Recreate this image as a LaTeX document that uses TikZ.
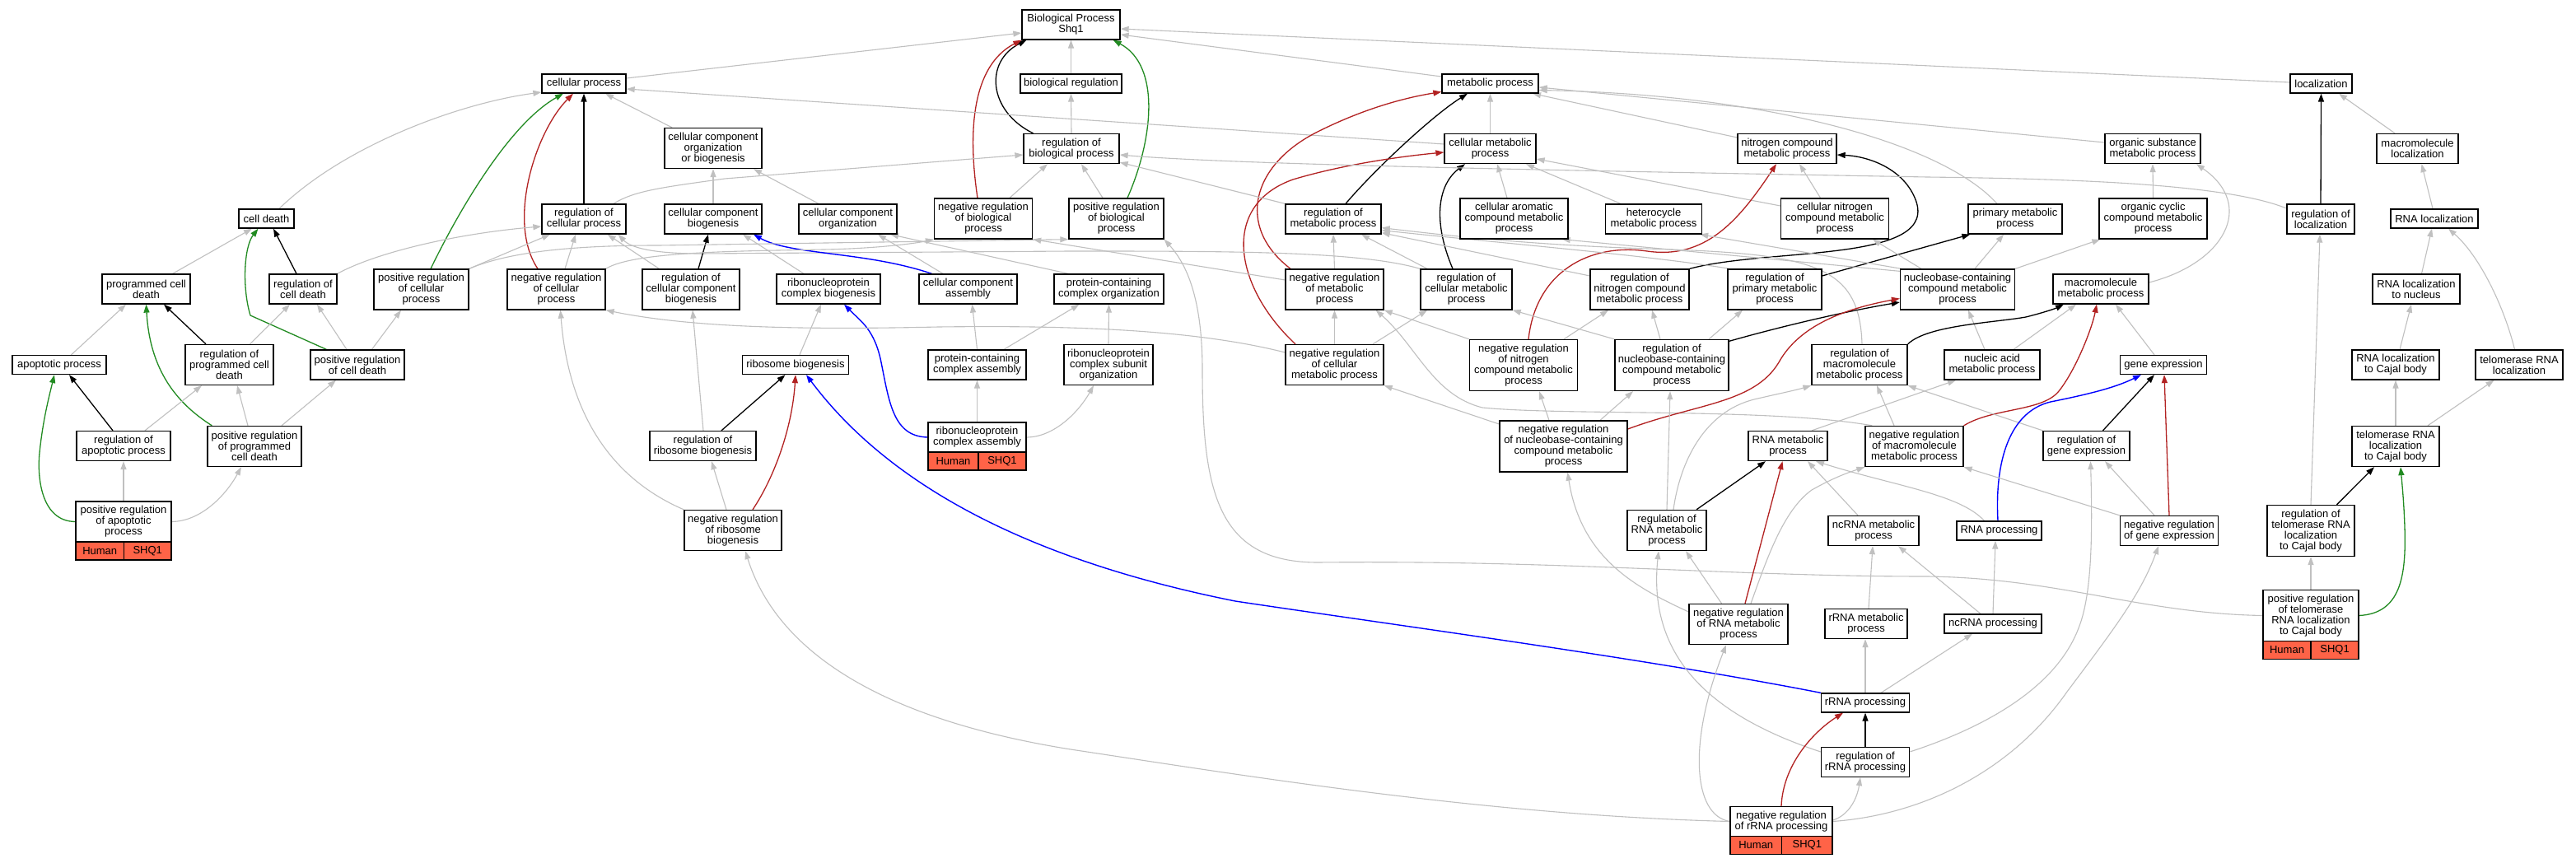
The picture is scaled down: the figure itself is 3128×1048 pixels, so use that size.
\documentclass[tikz,border=0pt]{standalone}
\usepackage{fontspec}
\setmainfont{Liberation Sans}
\usetikzlibrary{arrows.meta}
\definecolor{edgegray}{HTML}{C0C0C0}
\definecolor{negred}{HTML}{B22222}
\definecolor{posgreen}{HTML}{228B22}
\definecolor{partblue}{HTML}{0000FF}
\definecolor{tomatofill}{HTML}{FF6347}
\newcommand{\gofont}{\fontsize{13pt}{13pt}\selectfont}
\pgfdeclarelayer{bglayer}
\pgfdeclarelayer{edgelayer}
\pgfsetlayers{bglayer,edgelayer,main}
\tikzset{
  gobox/.style={draw=black, line width=1.3pt, fill=white, align=center, inner sep=0pt, font=\gofont},
  annot/.style={draw=black, line width=1.3pt, fill=tomatofill, inner sep=0pt, font=\gofont},
  wh/.style 2 args={minimum width=#1pt, minimum height=#2pt},
  isarel/.style={draw=edgegray, line width=1.1pt, -{Triangle[length=10pt,width=7pt]}},
  regrel/.style={draw=black, line width=1.3pt, -{Triangle[length=10pt,width=7pt]}},
  negrel/.style={draw=negred, line width=1.3pt, -{Triangle[length=10pt,width=7pt]}},
  posrel/.style={draw=posgreen, line width=1.3pt, -{Triangle[length=10pt,width=7pt]}},
  partrel/.style={draw=partblue, line width=1.4pt, -{Triangle[length=10pt,width=7pt]}}
}
\begin{document}
\begin{tikzpicture}[x=1pt,y=-1pt]
\begin{pgfonlayer}{bglayer}
\fill[white] (0,0) rectangle (3128,1048);
\end{pgfonlayer}
\useasboundingbox (0,0) rectangle (3128,1048);

% ---------------- nodes ----------------
\node[gobox,wh={119}{36}] (root) at (1300.5,30) {Biological Process\\Shq1};
\node[gobox,wh={102}{23}] (cp) at (709,101.5) {cellular process};
\node[gobox,wh={123}{23}] (br) at (1300.5,101.5) {biological regulation};
\node[gobox,wh={117}{23}] (mp) at (1809.5,101.5) {metabolic process};
\node[gobox,wh={75}{23}] (loc) at (2818.5,101.5) {localization};

\node[gobox,wh={118}{49}] (ccob) at (866,180) {cellular component\\organization\\or biogenesis};
\node[gobox,wh={116}{36}] (rbp) at (1301,180.5) {regulation of\\biological process};
\node[gobox,wh={111}{36}] (cmp) at (1809.5,180.5) {cellular metabolic\\process};
\node[gobox,wh={120}{36}] (ncmp) at (2170,180.5) {nitrogen compound\\metabolic process};
\node[gobox,wh={116}{36}] (osmp) at (2614,180.5) {organic substance\\metabolic process};
\node[gobox,wh={99}{36}] (mloc) at (2935.5,180.5) {macromolecule\\localization};

\node[gobox,wh={67}{23}] (cd) at (323.5,265.5) {cell death};
\node[gobox,wh={102}{36}] (rcp) at (709,266) {regulation of\\cellular process};
\node[gobox,wh={118}{36}] (ccb) at (866,266) {cellular component\\biogenesis};
\node[gobox,wh={119}{36}] (cco) at (1029.5,266) {cellular component\\organization};
\node[gobox,wh={119}{49}] (nrbp) at (1194,265.5) {negative regulation\\of biological\\process};
\node[gobox,wh={115}{49}] (prbp) at (1355.5,265.5) {positive regulation\\of biological\\process};
\node[gobox,wh={116}{36}] (rmp) at (1619,266) {regulation of\\metabolic process};
\node[gobox,wh={131}{49}] (camp) at (1838.5,265.5) {cellular aromatic\\compound metabolic\\process};
\node[gobox,wh={117}{36}] (hmp) at (2008,266) {heterocycle\\metabolic process};
\node[gobox,wh={131}{49}] (cnmp) at (2228,265.5) {cellular nitrogen\\compound metabolic\\process};
\node[gobox,wh={114}{36}] (pmp) at (2447,266) {primary metabolic\\process};
\node[gobox,wh={131}{49}] (ocmp) at (2614.5,265.5) {organic cyclic\\compound metabolic\\process};
\node[gobox,wh={82}{36}] (rloc) at (2818,266) {regulation of\\localization};
\node[gobox,wh={106}{23}] (rnaloc) at (2956,265.5) {RNA localization};

\node[gobox,wh={107}{36}] (pcd) at (177.5,351) {programmed cell\\death};
\node[gobox,wh={82}{36}] (rcd) at (368,351) {regulation of\\cell death};
\node[gobox,wh={115}{49}] (prcp) at (511.5,351.5) {positive regulation\\of cellular\\process};
\node[gobox,wh={119}{49}] (nrcp) at (675.5,351.5) {negative regulation\\of cellular\\process};
\node[gobox,wh={118}{49}] (rccb) at (839,351.5) {regulation of\\cellular component\\biogenesis};
\node[gobox,wh={126}{36}] (rcb) at (1006,351) {ribonucleoprotein\\complex biogenesis};
\node[gobox,wh={119}{36}] (cca) at (1175.5,351) {cellular component\\assembly};
\node[gobox,wh={133}{36}] (pco) at (1346.5,351) {protein-containing\\complex organization};
\node[gobox,wh={119}{49}] (nrmp) at (1620.5,351.5) {negative regulation\\of metabolic\\process};
\node[gobox,wh={111}{49}] (rcmp) at (1780.5,351.5) {regulation of\\cellular metabolic\\process};
\node[gobox,wh={120}{49}] (rnmp) at (1991,351.5) {regulation of\\nitrogen compound\\metabolic process};
\node[gobox,wh={114}{49}] (rpmp) at (2155,351.5) {regulation of\\primary metabolic\\process};
\node[gobox,wh={139}{49}] (nbmp) at (2377,351.5) {nucleobase-containing\\compound metabolic\\process};
\node[gobox,wh={116}{36}] (mmp) at (2551,351) {macromolecule\\metabolic process};
\node[gobox,wh={106}{36}] (rlocn) at (2934,351) {RNA localization\\to nucleus};

\node[gobox,wh={114}{23}] (ap) at (72,443) {apoptotic process};
\node[gobox,wh={107}{49}] (rpcd) at (278.5,443) {regulation of\\programmed cell\\death};
\node[gobox,wh={114}{36}] (prcd) at (434,443) {positive regulation\\of cell death};
\node[gobox,wh={129}{23}] (rb) at (966,443) {ribosome biogenesis};
\node[gobox,wh={119}{36}] (pca) at (1186.5,443) {protein-containing\\complex assembly};
\node[gobox,wh={108}{49}] (rcso) at (1346,443) {ribonucleoprotein\\complex subunit\\organization};
\node[gobox,wh={119}{49}] (nrcmp) at (1620.5,443) {negative regulation\\of cellular\\metabolic process};
\node[gobox,wh={131}{62}] (nrnmp) at (1850,443.5) {negative regulation\\of nitrogen\\compound metabolic\\process};
\node[gobox,wh={138}{62}] (rnbmp) at (2030,443.5) {regulation of\\nucleobase-containing\\compound metabolic\\process};
\node[gobox,wh={116}{49}] (rmmp) at (2258,443) {regulation of\\macromolecule\\metabolic process};
\node[gobox,wh={116}{36}] (namp) at (2419,443) {nucleic acid\\metabolic process};
\node[gobox,wh={105}{23}] (ge) at (2627,443) {gene expression};
\node[gobox,wh={106}{36}] (rlcb) at (2909,443) {RNA localization\\to Cajal body};
\node[gobox,wh={106}{36}] (trl) at (3059,443) {telomerase RNA\\localization};

\node[gobox,wh={114}{36}] (rap) at (150,541.5) {regulation of\\apoptotic process};
\node[gobox,wh={114}{49}] (prpcd) at (309,542) {positive regulation\\of programmed\\cell death};
\node[gobox,wh={129}{36}] (rrb) at (853.5,541.5) {regulation of\\ribosome biogenesis};
\node[gobox,wh={119}{36}] (rca) at (1186.5,531) {ribonucleoprotein\\complex assembly};
\node[annot,wh={61}{22}] (rcaH) at (1157.5,560) {Human};
\node[annot,wh={58}{22}] (rcaS) at (1217,560) {SHQ1};
\node[gobox,wh={155}{62}] (nrnb) at (1898.5,542) {negative regulation\\of nucleobase-containing\\compound metabolic\\process};
\node[gobox,wh={96}{36}] (rnamp) at (2171,541.5) {RNA metabolic\\process};
\node[gobox,wh={119}{49}] (nrmmp) at (2324.5,542) {negative regulation\\of macromolecule\\metabolic process};
\node[gobox,wh={105}{36}] (rge) at (2533.5,541.5) {regulation of\\gene expression};
\node[gobox,wh={106}{49}] (trlcb) at (2909,542) {telomerase RNA\\localization\\to Cajal body};

\node[gobox,wh={116}{49}] (prap) at (150,633.5) {positive regulation\\of apoptotic\\process};
\node[annot,wh={58.5}{22}] (prapH) at (121.25,669) {Human};
\node[annot,wh={57.5}{22}] (prapS) at (179.25,669) {SHQ1};
\node[gobox,wh={118}{49}] (nrrb) at (890,644) {negative regulation\\of ribosome\\biogenesis};
\node[gobox,wh={96}{49}] (rrnamp) at (2024,644) {regulation of\\RNA metabolic\\process};
\node[gobox,wh={110}{36}] (ncrm) at (2275,644.5) {ncRNA metabolic\\process};
\node[gobox,wh={103}{23}] (rnap) at (2427.5,644.5) {RNA processing};
\node[gobox,wh={119}{36}] (nrge) at (2634,644.5) {negative regulation\\of gene expression};
\node[gobox,wh={106}{62}] (rtrl) at (2806,644.5) {regulation of\\telomerase RNA\\localization\\to Cajal body};

\node[gobox,wh={120}{49}] (nrrna) at (2111,758) {negative regulation\\of RNA metabolic\\process};
\node[gobox,wh={100}{36}] (rrm) at (2266,757.5) {rRNA metabolic\\process};
\node[gobox,wh={118}{23}] (ncp) at (2420,757.5) {ncRNA processing};
\node[gobox,wh={116}{62}] (prtrl) at (2806,747.5) {positive regulation\\of telomerase\\RNA localization\\to Cajal body};
\node[annot,wh={58}{21.5}] (prtrlH) at (2777,789.5) {Human};
\node[annot,wh={58}{21.5}] (prtrlS) at (2835,789.5) {SHQ1};

\node[gobox,wh={107}{23}] (rrp) at (2265,853.5) {rRNA processing};
\node[gobox,wh={107}{36}] (rrrp) at (2265,925.5) {regulation of\\rRNA processing};
\node[gobox,wh={124}{36}] (nrrp) at (2163,997.5) {negative regulation\\of rRNA processing};
\node[annot,wh={62.5}{21.5}] (nrrpH) at (2132.25,1026.5) {Human};
\node[annot,wh={61.5}{21.5}] (nrrpS) at (2194.25,1026.5) {SHQ1};

% ---------------- edges ----------------
\begin{pgfonlayer}{edgelayer}
% to root
\draw[isarel] ([yshift=6.5]cp.east) -- ([yshift=-10]root.west);
\draw[isarel] (br.north) -- (root.south);
\draw[regrel] ([xshift=-46.5]rbp.north) .. controls (1200,135) and (1195,75) .. ([xshift=6]root.south west);
\draw[negrel] ([xshift=-7]nrbp.north) .. controls (1175,160) and (1180,80) .. (root.south west);
\draw[posrel] ([xshift=13.5]prbp.north) .. controls (1400,170) and (1410,80) .. ([xshift=-9]root.south east);
\draw[isarel] ([yshift=8.5]mp.west) -- ([yshift=-12]root.east);
\draw[isarel] ([yshift=1.5]loc.west) -- ([yshift=-5]root.east);
% cellular process
\draw[isarel] ([xshift=15.5]cd.north) .. controls (420,175) and (560,125) .. ([yshift=-10.5]cp.west);
\draw[posrel] ([xshift=11.5]prcp.north) .. controls (560,250) and (620,150) .. ([xshift=-25]cp.south);
\draw[negrel] ([xshift=-22.5]nrcp.north) .. controls (615,270) and (650,160) .. ([xshift=-13]cp.south);
\draw[regrel] (rcp.north) -- (cp.south);
\draw[isarel] ([xshift=-50]ccob.north) -- ([xshift=26]cp.south);
\draw[isarel] ([yshift=5.5]cmp.west) -- ([yshift=-6.5]cp.east);
% metabolic process
\draw[isarel] (cmp.north) -- (mp.south);
\draw[regrel] ([xshift=15]rmp.north) .. controls (1670,205) and (1740,140) .. ([xshift=-27.5]mp.south);
\draw[negrel] ([xshift=-53.5]nrmp.north) .. controls (1500,275) and (1520,200) .. (1600,160) .. controls (1660,130) and (1710,118) .. ([yshift=-10]mp.west);
\draw[isarel] ([yshift=13.5]ncmp.west) -- ([xshift=51.5]mp.south);
\draw[isarel] ([yshift=7.5]osmp.west) -- ([yshift=-4.5]mp.east);
\draw[isarel] ([xshift=-22]pmp.north) .. controls (2360,175) and (2150,115) .. ([yshift=-8]mp.east);
% localization
\draw[regrel] (rloc.north) -- (loc.south);
\draw[isarel] ([xshift=-27.5]mloc.north) -- ([xshift=21.5]loc.south);
% cellular metabolic process
\draw[regrel] ([xshift=-16.5]rcmp.north) .. controls (1740,270) and (1745,225) .. ([xshift=-30.5]cmp.south);
\draw[isarel] ([xshift=-8.5]camp.north) -- ([xshift=8.5]cmp.south);
\draw[isarel] ([xshift=-40]hmp.north) -- ([xshift=43.5]cmp.south);
\draw[isarel] ([yshift=15.5]cnmp.west) -- ([yshift=-12.5]cmp.east);
\draw[negrel] ([xshift=-47.5]nrcmp.north) .. controls (1500,350) and (1480,250) .. (1570,218) .. controls (1630,200) and (1700,190) .. ([yshift=-4.5]cmp.west);
% nitrogen compound
\draw[isarel] ([xshift=-17.5]cnmp.north) -- ([xshift=15]ncmp.south);
\draw[regrel] (rnmp.north east) .. controls (2150,300) and (2360,320) .. (2325,240) .. controls (2310,205) and (2270,190) .. ([yshift=-7.5]ncmp.east);
\draw[negrel] ([xshift=6]nrnmp.north) .. controls (1865,330) and (1930,295) .. (2000,305) .. controls (2070,315) and (2110,270) .. ([xshift=-13]ncmp.south);
% organic substance
\draw[isarel] (ocmp.north) -- (osmp.south);
\draw[isarel] ([yshift=8]mmp.east) .. controls (2700,320) and (2740,250) .. ([xshift=53]osmp.south);
% primary and friends
\draw[regrel] ([yshift=16.5]rpmp.east) -- ([xshift=3]pmp.south west);
\draw[isarel] ([xshift=21]nbmp.north) -- ([xshift=-14]pmp.south);
\draw[isarel] (nbmp.north east) -- ([xshift=2]ocmp.south west);
\draw[isarel] ([xshift=2]nbmp.north west) -- ([xshift=-3]hmp.south east);
\draw[isarel] ([yshift=-3]nbmp.north west) -- ([xshift=-8]camp.south east);
\draw[isarel] ([xshift=-44]nbmp.north) -- ([xshift=46]cnmp.south);
% regulation of metabolic process
\draw[isarel] (nrmp.north) -- (rmp.south);
\draw[isarel] ([xshift=-47.5]rcmp.north) -- ([xshift=34]rmp.south);
\draw[isarel] ([yshift=16.5]rnmp.west) -- ([yshift=2]rmp.south east);
\draw[isarel] ([xshift=3]rpmp.north west) .. controls (2000,310) and (1850,298) .. ([yshift=5]rmp.south east);
\draw[isarel] ([xshift=3]rmmp.north) .. controls (2258,320) and (2200,308) .. (2000,302) .. controls (1850,297) and (1750,285) .. ([yshift=8]rmp.south east);
% regulation of biological process
\draw[isarel] (rmp.north west) -- ([yshift=2]rbp.south east);
\draw[isarel] ([yshift=13]rloc.west) .. controls (2700,222) and (2500,217) .. (2340,215) .. controls (1900,207) and (1500,200) .. ([yshift=-7.5]rbp.east);
\draw[isarel] ([xshift=36]rcp.north) .. controls (770,232) and (800,228) .. (880,217) -- ([yshift=-7.5]rbp.west);
\draw[isarel] ([xshift=32]nrbp.north) -- ([xshift=-29]rbp.south);
\draw[isarel] ([xshift=-16.5]prbp.north) -- ([xshift=12]rbp.south);
\draw[isarel] (rbp.north) -- (br.south);
% cellular component organization or biogenesis
\draw[isarel] (ccb.north) -- (ccob.south);
\draw[isarel] ([xshift=-35.5]cco.north) -- ([xshift=49]ccob.south);
% regulation of cellular process
\draw[isarel] (rcd.north east) .. controls (460,305) and (560,283) .. ([yshift=-9]rcp.west);
\draw[isarel] (prcp.north east) -- ([xshift=-41]rcp.south);
\draw[isarel] ([xshift=10.5]nrcp.north) -- ([xshift=-10]rcp.south);
\draw[isarel] ([xshift=21]rccb.north west) -- ([xshift=-23]rcp.south east);
\draw[isarel] (rcmp.north west) .. controls (1650,305) and (1500,305) .. (1300,305) -- (850,308) .. controls (790,308) and (765,300) .. ([xshift=-10]rcp.south east);
% cellular component biogenesis / organization
\draw[regrel] ([xshift=9]rccb.north) -- ([xshift=-6]ccb.south);
\draw[isarel] ([xshift=-30]rcb.north) -- ([xshift=36]ccb.south);
\draw[partrel] ([xshift=16]cca.north west) .. controls (1050,305) and (960,310) .. ([xshift=49]ccb.south);
\draw[isarel] ([xshift=-30.5]cca.north) -- ([xshift=36.5]cco.south);
\draw[isarel] ([xshift=18]pco.north west) -- ([xshift=51.5]cco.south);
% negative / positive regulation of biological process
\draw[isarel] (nrcp.north east) .. controls (770,305) and (900,305) .. (1000,303) .. controls (1060,302) and (1110,296) .. (nrbp.south west);
\draw[isarel] ([yshift=11.5]nrmp.west) -- (nrbp.south east);
\draw[isarel] (prcp.north east) .. controls (620,305) and (700,298) .. (800,298) -- (prbp.south west);
\draw[isarel] (prtrl.west) .. controls (2600,745) and (2500,702) .. (2340,700) .. controls (2100,700) and (1900,680) .. (1600,683) .. controls (1480,683) and (1460,600) .. (1460,450) .. controls (1460,360) and (1440,320) .. (prbp.south east);
% complex assembly
\draw[isarel] (pca.north) -- ([xshift=5]cca.south);
\draw[isarel] ([xshift=32.5]pca.north) -- ([xshift=-36]pco.south);
\draw[isarel] (rcso.north) -- (pco.south);
\draw[isarel] ([xshift=5]rb.north) -- ([xshift=-9]rcb.south);
\draw[partrel] (rca.west) .. controls (1085,530) and (1080,490) .. (1070,440) .. controls (1062,400) and (1045,390) .. ([xshift=19]rcb.south);
\draw[isarel] (rca.north) -- (pca.south);
\draw[isarel] (rca.east) .. controls (1280,531) and (1310,500) .. ([xshift=-18]rcso.south);
% ribosome biogenesis
\draw[regrel] ([xshift=22.5]rrb.north) -- ([xshift=-12.5]rb.south);
\draw[negrel] ([xshift=24]nrrb.north) .. controls (940,580) and (962,520) .. (rb.south);
\draw[partrel] (rrp.north west) .. controls (2000,800) and (1700,760) .. (1500,730) .. controls (1250,680) and (1080,590) .. ([xshift=13]rb.south);
\draw[isarel] ([xshift=-8]nrrb.north) -- ([xshift=10.5]rrb.south);
\draw[isarel] ([xshift=0.5]rrb.north) -- ([xshift=2]rccb.south);
\draw[isarel] (nrrb.north west) .. controls (740,580) and (690,500) .. ([xshift=5]nrcp.south);
\draw[isarel] ([yshift=15]nrcmp.west) .. controls (1450,400) and (1300,395) .. (1140,397) .. controls (1000,400) and (850,400) .. (nrcp.south east);
% cell death region
\draw[isarel] ([xshift=14.5]ap.north) -- ([xshift=-24.5]pcd.south);
\draw[regrel] ([xshift=-28.5]rpcd.north) -- ([xshift=21.5]pcd.south);
\draw[posrel] ([xshift=6]prpcd.north west) .. controls (215,490) and (182,450) .. (pcd.south);
\draw[isarel] ([xshift=-22]pcd.north east) -- ([xshift=-17.5]cd.south);
\draw[regrel] ([xshift=-8]rcd.north) -- ([xshift=8.5]cd.south);
\draw[posrel] ([xshift=20]prcd.north west) -- (304,383) .. controls (294,350) and (296,300) .. ([xshift=-10]cd.south);
\draw[isarel] ([xshift=25]rpcd.north) -- ([xshift=-16]rcd.south);
\draw[isarel] ([xshift=-13]prcd.north) -- ([xshift=17]rcd.south);
\draw[isarel] ([xshift=17.5]prcd.north) -- ([xshift=-24.5]prcp.south);
\draw[regrel] ([xshift=-13]rap.north) -- ([xshift=12]ap.south);
\draw[posrel] (prap.west) .. controls (50,633) and (45,580) .. (48,550) .. controls (52,510) and (60,480) .. ([xshift=-6]ap.south);
\draw[isarel] ([xshift=26]rap.north) -- ([xshift=-33.5]rpcd.south);
\draw[isarel] ([xshift=-8]prpcd.north) -- ([xshift=9.5]rpcd.south);
\draw[isarel] ([xshift=33]prpcd.north) -- ([xshift=-26]prcd.south);
\draw[isarel] (prap.north) -- (rap.south);
\draw[isarel] (prap.east) .. controls (245,633) and (275,600) .. ([xshift=-16]prpcd.south);
% metabolic regulation middle
\draw[isarel] ([xshift=46.5]nrcmp.north) -- ([xshift=-47.5]rcmp.south);
\draw[isarel] (rnbmp.north west) -- (rcmp.south east);
\draw[isarel] (nrcmp.north) -- (nrmp.south);
\draw[isarel] ([xshift=9]nrmmp.north west) .. controls (2150,495) and (1900,505) .. (1800,495) .. controls (1740,480) and (1720,420) .. ([xshift=-10]nrmp.south east);
\draw[isarel] (nrnmp.north west) -- (nrmp.south east);
\draw[isarel] ([xshift=49]nrnmp.north) -- ([xshift=-38]rnmp.south);
\draw[isarel] ([xshift=-14]rnbmp.north) -- ([xshift=15]rnmp.south);
\draw[isarel] ([xshift=45]rnbmp.north) -- ([xshift=-39]rpmp.south);
\draw[regrel] ([yshift=-2.5]rnbmp.north east) .. controls (2150,400) and (2230,380) .. ([yshift=-15.5]nbmp.west);
\draw[negrel] ([yshift=21]nrnb.east) .. controls (2060,490) and (2130,490) .. (2160,440) .. controls (2185,395) and (2240,375) .. ([yshift=-11]nbmp.west);
\draw[isarel] ([xshift=-9]namp.north) -- ([xshift=13]nbmp.south);
\draw[regrel] (rmmp.north east) .. controls (2340,395) and (2420,392) .. (2460,385) .. controls (2480,380) and (2495,375) .. ([xshift=-45]mmp.south);
\draw[negrel] (nrmmp.north east) .. controls (2420,495) and (2480,500) .. (2500,475) .. controls (2520,450) and (2540,400) .. ([xshift=-5]mmp.south);
\draw[isarel] ([xshift=26]namp.north) -- ([xshift=-30]mmp.south);
\draw[isarel] ([xshift=-11]ge.north) -- ([xshift=18]mmp.south);
\draw[isarel] ([xshift=-24.5]nrmmp.north) -- ([xshift=21]rmmp.south);
\draw[isarel] (rge.north west) -- (rmmp.south east);
\draw[isarel] ([xshift=8]rrnamp.north) .. controls (2040,560) and (2070,500) .. (2130,485) .. controls (2160,478) and (2180,474) .. (rmmp.south west);
\draw[isarel] ([xshift=29]rnamp.north) -- ([xshift=-44]namp.south);
% gene expression
\draw[regrel] ([xshift=20]rge.north) -- ([xshift=-11]ge.south);
\draw[negrel] (nrge.north) -- ([xshift=1]ge.south);
\draw[partrel] ([xshift=-1.5]rnap.north) .. controls (2422,560) and (2440,500) .. (2490,488) .. controls (2540,478) and (2570,470) .. ([xshift=-27]ge.south);
\draw[isarel] ([xshift=-18]nrge.north) -- ([xshift=22.5]rge.south);
\draw[isarel] ([yshift=12.5]rrrp.east) .. controls (2420,880) and (2500,830) .. (2525,760) .. controls (2540,720) and (2541,650) .. ([xshift=5]rge.south);
% RNA metabolic
\draw[isarel] ([yshift=12.5]rrrp.west) .. controls (2080,870) and (2000,800) .. ([xshift=-10]rrnamp.south);
\draw[isarel] ([xshift=-20.5]nrrna.north) -- ([xshift=23]rrnamp.south);
\draw[regrel] ([xshift=36]rrnamp.north) -- ([xshift=-27]rnamp.south);
\draw[negrel] ([xshift=8]nrrna.north) -- ([xshift=-6.5]rnamp.south);
\draw[isarel] ([xshift=-19]ncrm.north) -- ([xshift=24]rnamp.south);
\draw[isarel] ([xshift=34]rnap.north west) .. controls (2380,600) and (2300,590) .. ([xshift=34]rnamp.south);
\draw[isarel] ([xshift=44.5]nrnb.north) -- ([xshift=-47]rnbmp.south);
\draw[isarel] (rrnamp.north) -- ([xshift=-2]rnbmp.south);
\draw[isarel] ([xshift=-17.5]nrnb.north) -- ([xshift=19]nrnmp.south);
\draw[isarel] ([yshift=27]nrnb.west) -- (nrcmp.south east);
\draw[isarel] ([yshift=15]nrrna.west) .. controls (1990,715) and (1920,680) .. ([xshift=5]nrnb.south);
\draw[isarel] ([xshift=15]nrrna.north) .. controls (2145,680) and (2165,620) .. (2200,595) .. controls (2230,578) and (2250,572) .. (nrmmp.south west);
\draw[isarel] (nrge.north west) -- (nrmmp.south east);
% ncRNA / rRNA
\draw[isarel] ([xshift=3]rrm.north) -- ([xshift=-1]ncrm.south);
\draw[isarel] ([xshift=-15]ncp.north) -- ([xshift=30]ncrm.south);
\draw[isarel] (ncp.north) -- ([xshift=-4.5]rnap.south);
\draw[isarel] (rrp.north) -- ([xshift=-1]rrm.south);
\draw[isarel] ([xshift=19]rrp.north) -- ([xshift=-25]ncp.south);
\draw[regrel] (rrrp.north) -- (rrp.south);
\draw[negrel] (nrrp.north) .. controls (2165,930) and (2200,890) .. ([xshift=-27]rrp.south);
\draw[isarel] ([yshift=1.5]nrrp.east) .. controls (2245,990) and (2255,970) .. ([xshift=-6]rrrp.south);
\draw[isarel] (nrrp.west) .. controls (2055,990) and (2050,900) .. ([xshift=-15]nrrna.south);
\draw[isarel] (nrrp.west) .. controls (1800,990) and (1500,940) .. (1300,910) .. controls (1050,870) and (940,780) .. ([xshift=15]nrrb.south);
\draw[isarel] (nrrp.east) .. controls (2330,990) and (2440,940) .. (2510,840) .. controls (2570,760) and (2600,720) .. ([xshift=-13]nrge.south);
% telomerase / localization
\draw[isarel] (prtrl.north) -- (rtrl.south);
\draw[regrel] ([xshift=31.5]rtrl.north) -- ([xshift=-26]trlcb.south);
\draw[posrel] (prtrl.east) .. controls (2915,745) and (2922,700) .. (2920,640) .. controls (2919,610) and (2917,590) .. ([xshift=6]trlcb.south);
\draw[isarel] (trlcb.north) -- (rlcb.south);
\draw[isarel] ([xshift=39]trlcb.north) -- ([xshift=-30.5]trl.south);
\draw[isarel] ([xshift=5]rlcb.north) -- ([xshift=-6]rlocn.south);
\draw[isarel] ([xshift=6.5]rlocn.north) -- ([xshift=-3]rnaloc.south);
\draw[isarel] ([xshift=-5.5]trl.north) .. controls (3040,370) and (3010,310) .. ([xshift=17]rnaloc.south);
\draw[isarel] ([xshift=-2]rnaloc.north) -- ([xshift=5]mloc.south);
\draw[isarel] (rtrl.north) -- ([xshift=-1]rloc.south);
\end{pgfonlayer}
\end{tikzpicture}
\end{document}
